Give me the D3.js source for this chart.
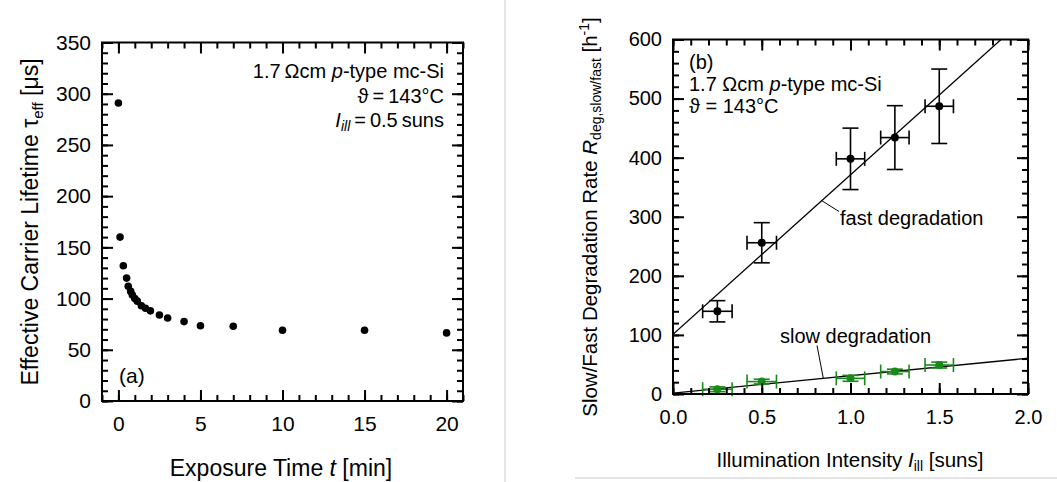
<!DOCTYPE html>
<html>
<head>
<meta charset="utf-8">
<script src="https://cdn.jsdelivr.net/npm/d3@7"></script>
<style>
  body { margin: 0; background: #fff; }
  svg { font-family: "Liberation Sans", Arial, sans-serif; }
</style>
</head>
<body>
<svg width="1057" height="482"></svg>
<script>
// ---- data (a): lifetime vs exposure time
var expTime = [0, 0.1, 0.3, 0.5, 0.6, 0.75, 0.85, 1.0, 1.15, 1.4, 1.65, 1.95, 2.5, 3, 4, 5, 7, 10, 15, 20];
var tauEff = [291, 160, 132, 120, 112, 107, 103.5, 100, 97.5, 93, 90.5, 88, 84, 81, 77.5, 73.5, 73, 69, 69, 66.5];
var xTicksA = [0, 5, 10, 15, 20];
var yTicksA = [0, 50, 100, 150, 200, 250, 300, 350];

// ---- data (b): degradation rate vs illumination
var illum = [0.25, 0.5, 1.0, 1.25, 1.5];
var illumErr = [0.083, 0.083, 0.08, 0.08, 0.08];
var fastRate = [140, 256, 398, 434, 487];
var fastErr = [18, 34, 52, 54, 63];
var slowRate = [8, 21, 26.5, 38, 49];
var slowErr = [4, 4, 5, 4, 5];
var fastFit = [101, 270];   // intercept, slope
var slowFit = [1.5, 29.5];
var xTicksB = [0, 0.5, 1.0, 1.5, 2.0];
var yTicksB = [0, 100, 200, 300, 400, 500, 600];

var svg = d3.select("svg");
var green = "#178a17";

// grey panel dividers
svg.append("line").attr("x1", 505).attr("x2", 505).attr("y1", 0).attr("y2", 482)
    .attr("stroke", "#dcdcdc").attr("stroke-width", 1.5);
svg.append("line").attr("x1", 575).attr("x2", 1057).attr("y1", 478).attr("y2", 478)
    .attr("stroke", "#dcdcdc").attr("stroke-width", 1.5);

// draws frame with inward ticks on all 4 sides
function frame(g, x, y, xMajor, xMinor, yMajor, yMinor, xFmt, yFmt, fs, pad) {
    var w = x.range()[1], h = y.range()[0];
    function ax(gen, ticks, size, fmt, tr) {
        var a = g.append("g").attr("transform", tr)
            .call(gen.tickValues(ticks).tickSizeInner(size).tickSizeOuter(0).tickPadding(pad).tickFormat(fmt));
        a.select(".domain").remove();
        a.selectAll("line").attr("stroke-width", 2);
        return a;
    }
    ax(d3.axisBottom(x), xMinor, -6, "", "translate(0," + h + ")");
    ax(d3.axisTop(x), xMinor, -6, "", "");
    ax(d3.axisTop(x), xMajor, -11, "", "");
    ax(d3.axisLeft(y), yMinor, -6, "", "");
    ax(d3.axisRight(y), yMinor, -6, "", "translate(" + w + ",0)");
    ax(d3.axisRight(y), yMajor, -11, "", "translate(" + w + ",0)");
    ax(d3.axisBottom(x), xMajor, -11, xFmt, "translate(0," + h + ")");
    var ly = g.append("g").call(d3.axisLeft(y).tickValues(yMajor).tickSizeInner(-11).tickSizeOuter(0).tickPadding(11).tickFormat(yFmt));
    ly.select(".domain").remove();
    ly.selectAll("line").attr("stroke-width", 2);
    g.selectAll(".tick text").attr("font-size", fs).attr("fill", "#000")
        .attr("font-family", "'Liberation Sans', Arial, sans-serif");
    g.append("rect").attr("width", w).attr("height", h)
        .attr("fill", "none").attr("stroke", "#000").attr("stroke-width", 2);
}

// ================= panel (a)
var gA = svg.append("g").attr("transform", "translate(102,42.5)");
var wA = 361, hA = 358.5;
var xA = d3.scaleLinear().domain([-1, 21]).range([0, wA]);
var yA = d3.scaleLinear().domain([0, 350]).range([hA, 0]);
frame(gA, xA, yA, xTicksA, d3.range(-1, 22, 1), yTicksA, d3.range(0, 351, 10),
    d3.format("d"), d3.format("d"), 21, 15);

gA.selectAll(".pt").data(expTime).enter().append("circle")
    .attr("cx", function (d) { return xA(d); })
    .attr("cy", function (d, i) { return yA(tauEff[i]); })
    .attr("r", 3.8).attr("fill", "#000");

var txA = gA.append("g").attr("font-size", 20).attr("text-anchor", "end");
var t1 = txA.append("text").attr("x", 342).attr("y", 35.5);
t1.append("tspan").text("1.7\u2009\u03A9cm ");
t1.append("tspan").attr("font-style", "italic").text("p");
t1.append("tspan").text("-type mc-Si");
txA.append("text").attr("x", 342).attr("y", 60.5).text("\u03D1\u2009=\u2009143\u00B0C");
var t3 = txA.append("text").attr("x", 342).attr("y", 84.5);
t3.append("tspan").attr("font-style", "italic").text("I");
t3.append("tspan").attr("font-style", "italic").attr("font-size", 14).attr("dy", 4).text("ill");
t3.append("tspan").attr("dy", -4).text("\u2009=\u20090.5\u2009suns");
gA.append("text").attr("x", 17).attr("y", 340.5).attr("font-size", 21).text("(a)");

// axis titles (a)
var xtA = svg.append("text").attr("x", 281).attr("y", 476).attr("font-size", 23).attr("text-anchor", "middle");
xtA.append("tspan").text("Exposure Time ");
xtA.append("tspan").attr("font-style", "italic").text("t");
xtA.append("tspan").text(" [min]");
var ytA = svg.append("text").attr("transform", "translate(38,222) rotate(-90)")
    .attr("font-size", 23).attr("text-anchor", "middle");
ytA.append("tspan").text("Effective Carrier Lifetime \u03C4");
ytA.append("tspan").attr("font-size", 15).attr("dy", 5).text("eff");
ytA.append("tspan").attr("dy", -5).text(" [\u03BCs]");

// ================= panel (b)
var gB = svg.append("g").attr("transform", "translate(673,39.5)");
var wB = 355, hB = 354.5;
var xB = d3.scaleLinear().domain([0, 2]).range([0, wB]);
var yB = d3.scaleLinear().domain([0, 600]).range([hB, 0]);

gB.append("clipPath").attr("id", "clipB").append("rect").attr("width", wB).attr("height", hB);
var fits = gB.append("g").attr("clip-path", "url(#clipB)");
[fastFit, slowFit].forEach(function (f) {
    fits.append("line")
        .attr("x1", xB(0)).attr("y1", yB(f[0]))
        .attr("x2", xB(2)).attr("y2", yB(f[0] + 2 * f[1]))
        .attr("stroke", "#000").attr("stroke-width", 1.3);
});

function errBars(vals, errs, col) {
    var g = gB.append("g").attr("stroke", col).attr("stroke-width", 1.6);
    illum.forEach(function (xv, i) {
        var cx = xB(xv), cy = yB(vals[i]);
        var x0 = xB(xv - illumErr[i]), x1 = xB(xv + illumErr[i]);
        var y0 = yB(vals[i] - errs[i]), y1 = yB(vals[i] + errs[i]);
        g.append("line").attr("x1", x0).attr("x2", x1).attr("y1", cy).attr("y2", cy);
        g.append("line").attr("x1", x0).attr("x2", x0).attr("y1", cy - 7).attr("y2", cy + 7);
        g.append("line").attr("x1", x1).attr("x2", x1).attr("y1", cy - 7).attr("y2", cy + 7);
        g.append("line").attr("x1", cx).attr("x2", cx).attr("y1", y0).attr("y2", y1);
        g.append("line").attr("x1", cx - 8).attr("x2", cx + 8).attr("y1", y0).attr("y2", y0);
        g.append("line").attr("x1", cx - 8).attr("x2", cx + 8).attr("y1", y1).attr("y2", y1);
        gB.append("circle").attr("cx", cx).attr("cy", cy).attr("r", 4).attr("fill", col);
    });
}
errBars(fastRate, fastErr, "#000");
errBars(slowRate, slowErr, green);

frame(gB, xB, yB, xTicksB, d3.range(0, 2.01, 0.1), yTicksB, d3.range(0, 601, 20),
    d3.format(".1f"), d3.format("d"), 20, 16);

// labels with leader lines
var lf = 0.838, ls = 0.847;
gB.append("line").attr("x1", xB(lf)).attr("y1", yB(fastFit[0] + fastFit[1] * lf))
    .attr("x2", 166).attr("y2", 172).attr("stroke", "#000").attr("stroke-width", 1);
gB.append("text").attr("x", 167).attr("y", 185.5).attr("font-size", 20).text("fast degradation");
gB.append("line").attr("x1", xB(ls)).attr("y1", yB(slowFit[0] + slowFit[1] * ls))
    .attr("x2", 144).attr("y2", 306).attr("stroke", "#000").attr("stroke-width", 1);
gB.append("text").attr("x", 107).attr("y", 303.5).attr("font-size", 20).text("slow degradation");

var txB = gB.append("g").attr("font-size", 20);
txB.append("text").attr("x", 16).attr("y", 29).text("(b)");
var b1 = txB.append("text").attr("x", 16).attr("y", 51);
b1.append("tspan").text("1.7 \u03A9cm ");
b1.append("tspan").attr("font-style", "italic").text("p");
b1.append("tspan").text("-type mc-Si");
txB.append("text").attr("x", 16).attr("y", 73.5).text("\u03D1 = 143\u00B0C");

// axis titles (b)
var xtB = svg.append("text").attr("x", 850).attr("y", 467).attr("font-size", 20.5).attr("text-anchor", "middle");
xtB.append("tspan").text("Illumination Intensity ");
xtB.append("tspan").attr("font-style", "italic").text("I");
xtB.append("tspan").attr("font-size", 14).attr("dy", 4).text("ill");
xtB.append("tspan").attr("dy", -4).text(" [suns]");
var ytB = svg.append("text").attr("transform", "translate(597,217) rotate(-90)")
    .attr("font-size", 20.5).attr("text-anchor", "middle");
ytB.append("tspan").text("Slow/Fast Degradation Rate ");
ytB.append("tspan").attr("font-style", "italic").text("R");
ytB.append("tspan").attr("font-size", 14).attr("dy", 4).text("deg,slow/fast");
ytB.append("tspan").attr("dy", -4).text(" [h");
ytB.append("tspan").attr("font-size", 14).attr("dy", -8).text("-1");
ytB.append("tspan").attr("dy", 8).text("]");
</script>
</body>
</html>
